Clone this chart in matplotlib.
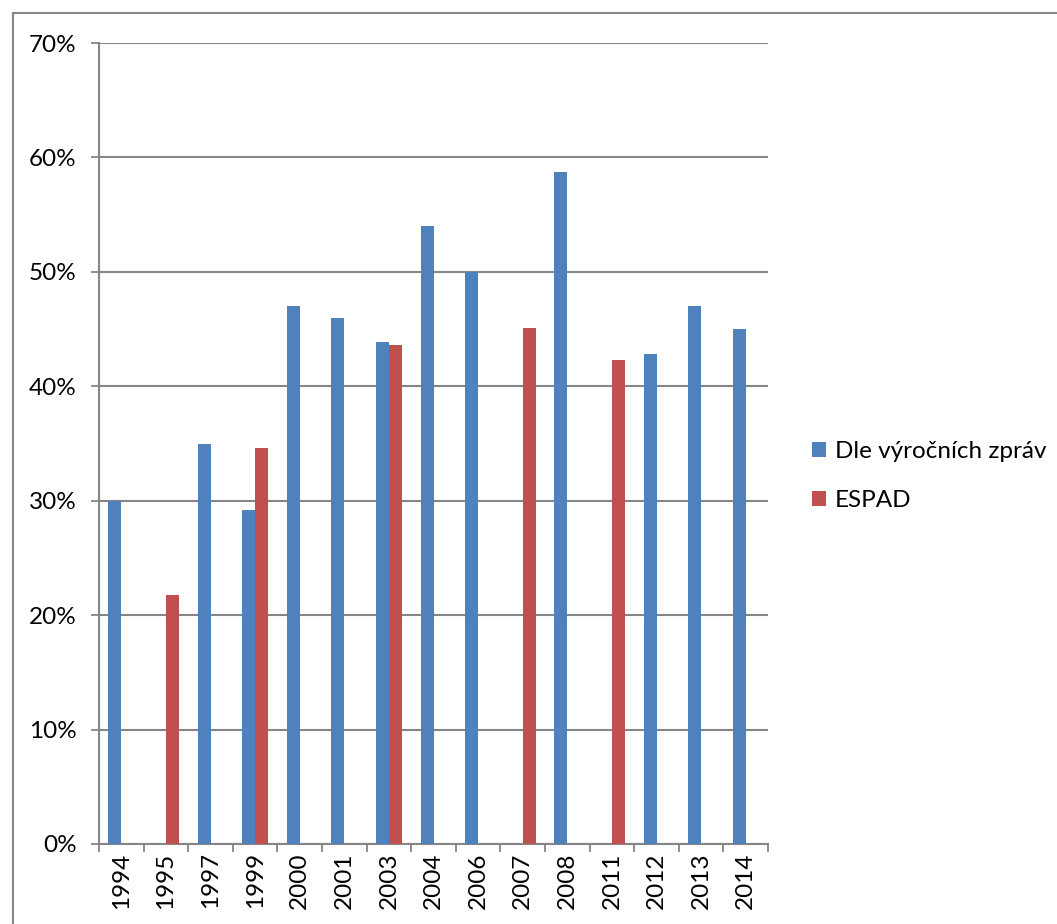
import matplotlib
matplotlib.use("Agg")
import matplotlib.pyplot as plt
from matplotlib.patches import Patch, Rectangle
from matplotlib.ticker import FixedLocator, FuncFormatter
import numpy as np

years = ["1994", "1995", "1997", "1999", "2000", "2001", "2003", "2004",
         "2006", "2007", "2008", "2011", "2012", "2013", "2014"]
vyrocni = [30.0, None, 35.0, 29.2, 47.0, 46.0, 43.9, 54.0,
           50.0, None, 58.7, None, 42.8, 47.0, 45.0]
espad = [None, 21.8, None, 34.6, None, None, 43.6, None,
         None, 45.1, None, 42.3, None, None, None]
series_names = ["Dle výročních zpráv", "ESPAD"]
colors = ["#4F81BD", "#C0504D"]
yticks = [0, 10, 20, 30, 40, 50, 60, 70]

plt.rcParams['font.family'] = ['Lato', 'DejaVu Sans']
grid_c = "#868686"

fig = plt.figure(figsize=(10.57, 9.24), dpi=100)
ax = fig.add_axes([99/1057, 1-844/924, (768-99)/1057, (844-43)/924])

x = np.arange(len(years))
w = 0.29
bv = [v if v is not None else 0 for v in vyrocni]
be = [v if v is not None else 0 for v in espad]
ax.bar(x - w/2, bv, width=w, color=colors[0], zorder=3)
ax.bar(x + w/2, be, width=w, color=colors[1], zorder=3)

ax.set_xlim(-0.5, len(years) - 0.5)
ax.set_ylim(0, 70)
ax.set_yticks(yticks)
ax.yaxis.set_major_formatter(FuncFormatter(lambda v, p: f"{int(v)}%"))
ax.grid(axis='y', color=grid_c, linewidth=1.5, zorder=0)
ax.set_axisbelow(True)

ax.xaxis.set_major_locator(FixedLocator(np.arange(len(years) + 1) - 0.5))
ax.xaxis.set_major_formatter(FuncFormatter(lambda v, p: ""))
ax.xaxis.set_minor_locator(FixedLocator(x))
ax.set_xticklabels(years, minor=True, rotation=90, fontsize=17.5)
ax.tick_params(axis='x', which='minor', length=0, pad=6)
ax.tick_params(axis='x', which='major', length=6, width=1.3, color=grid_c, direction='out')
ax.tick_params(axis='y', length=6, width=1.3, color=grid_c, direction='out', labelsize=17.5, pad=10)

for s in ['top', 'right']:
    ax.spines[s].set_visible(False)
for s in ['left', 'bottom']:
    ax.spines[s].set_color(grid_c)
    ax.spines[s].set_linewidth(1.5)

handles = [Patch(facecolor=c, edgecolor='none') for c in colors]
fig.legend(handles, series_names, loc='center left',
           bbox_to_anchor=(790/1057, 1-476/924), frameon=False, fontsize=17.5,
           handlelength=0.6, handleheight=0.6, handletextpad=0.35,
           labelspacing=1.15)

fig.add_artist(Rectangle((13/1057, -0.1), 1.2, (1-13/924) + 0.1, fill=False,
                         edgecolor=grid_c, linewidth=1.5, transform=fig.transFigure))

fig.savefig("out.png", dpi=100, facecolor='white')
